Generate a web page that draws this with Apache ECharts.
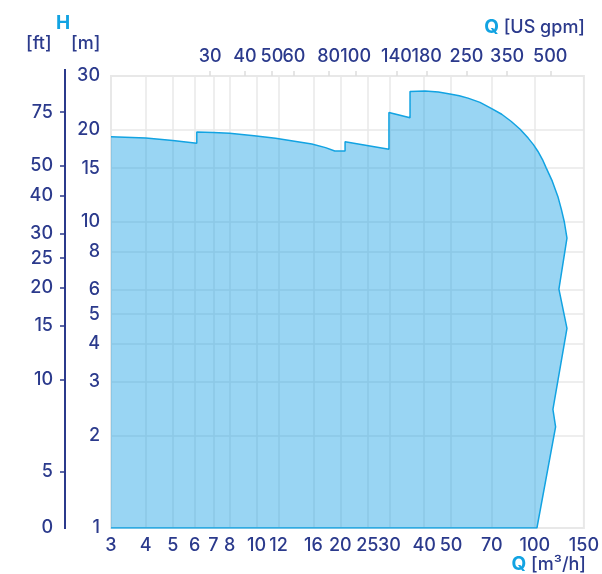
<!DOCTYPE html>
<html>
<head>
<meta charset="utf-8">
<script src="https://cdn.jsdelivr.net/npm/echarts@6/dist/echarts.min.js"></script>
<style>
html,body{margin:0;padding:0;background:#fff;}
#chart{width:602px;height:574px;}
</style>
</head>
<body>
<div id="chart"></div>
<script>
// Envelope outline: flow Q [m3/h] and head H [m]
const flowQ = [3, 4, 5, 6.1, 6.1, 7, 8, 9.8, 11.7, 15.8, 17.7, 19.1, 20.8, 20.8, 29.9, 29.9, 35.6, 35.6, 40.3, 45, 49.5, 53.5, 57.5, 63.5, 69.7, 76, 82.3, 88.5, 94.6, 98.8, 102.6, 106.5, 109.9, 115.5, 121, 124.5, 127.6, 130.4, 122, 130.4, 116.1, 118.7, 101.7, 3];
const headH = [19.0, 18.8, 18.45, 18.07, 19.7, 19.6, 19.5, 19.15, 18.77, 17.98, 17.5, 17.06, 17.06, 18.3, 17.3, 22.8, 21.9, 26.7, 26.8, 26.6, 26.2, 25.85, 25.4, 24.6, 23.5, 22.5, 21.3, 20.1, 18.8, 17.9, 17.0, 16.0, 15.0, 13.6, 12.1, 11.0, 10.0, 8.85, 6.03, 4.49, 2.44, 2.14, 1.0, 1.0];

// Axis tick labels
const qLabels = [3, 4, 5, 6, 7, 8, 10, 12, 16, 20, 25, 30, 40, 50, 70, 100, 150];
const qGrid = [4, 5, 6, 7, 8, 10, 12, 16, 20, 25, 30, 40, 50, 70, 100];
const gpmLabels = [30, 40, 50, 60, 80, 100, 140, 180, 250, 350, 500];
const hLabels = [1, 2, 3, 4, 5, 6, 8, 10, 15, 20, 30];
const hGrid = [2, 3, 4, 5, 6, 8, 10, 15, 20];
const ftLabels = [0, 5, 10, 15, 20, 25, 30, 40, 50, 75];

const GPM_PER_M3H = 4.40287;
const FT_PER_M = 1 / 0.3048;
const Q_MIN = 3, Q_MAX = 150, H_MIN = 1, H_MAX = 30;

const NAVY = '#2b3a8c';
const BLUE = '#12a3e2';
const GRID = '#e8e8e8';
const FONT = 'Inter, "Noto Sans", sans-serif';

const ftMin = H_MIN * FT_PER_M;
const ftTicks = ftLabels.filter(v => v > 0);
const ftLabelVals = ftLabels.map(v => v === 0 ? ftMin : v);

const chart = echarts.init(document.getElementById('chart'), null, {renderer: 'canvas'});

const labelStyle = {color: NAVY, fontSize: 18, fontWeight: 500, fontFamily: FONT};

chart.setOption({
  animation: false,
  grid: {left: 111, right: 16, top: 76, bottom: 46, show: true, borderColor: GRID, borderWidth: 2, backgroundColor: 'transparent'},
  xAxis: [
    {
      type: 'log', logBase: 10, min: Q_MIN, max: Q_MAX, position: 'bottom',
      axisLine: {show: false},
      axisTick: {show: false, customValues: qGrid},
      axisLabel: Object.assign({customValues: qLabels, margin: 9, formatter: v => String(Math.round(v))}, labelStyle),
      splitLine: {show: true, lineStyle: {color: GRID, width: 1.5}}
    },
    {
      type: 'log', logBase: 10, min: Q_MIN * GPM_PER_M3H, max: Q_MAX * GPM_PER_M3H, position: 'top',
      axisLine: {show: false},
      axisTick: {show: true, customValues: gpmLabels, length: 5, lineStyle: {color: '#dddddd', width: 1.5}},
      axisLabel: Object.assign({customValues: gpmLabels, margin: 10, formatter: v => String(Math.round(v))}, labelStyle),
      splitLine: {show: false}
    }
  ],
  yAxis: [
    {
      type: 'log', logBase: 10, min: H_MIN, max: H_MAX, position: 'left',
      axisLine: {show: false},
      axisTick: {show: false, customValues: hGrid},
      axisLabel: Object.assign({customValues: hLabels, margin: 11, formatter: v => String(Math.round(v))}, labelStyle),
      splitLine: {show: true, lineStyle: {color: GRID, width: 1.5}}
    },
    {
      type: 'log', logBase: 10, min: ftMin, max: H_MAX * FT_PER_M, position: 'left', offset: 46,
      axisLine: {show: false},
      axisTick: {show: true, customValues: ftTicks, length: 5, lineStyle: {color: NAVY, width: 1.5}},
      axisLabel: Object.assign({customValues: ftLabelVals, margin: 12, formatter: v => (Math.abs(v - ftMin) < 1e-6 ? '0' : String(Math.round(v)))}, labelStyle),
      splitLine: {show: false}
    }
  ],
  graphic: [
    {type: 'line', shape: {x1: 65, y1: 69, x2: 65, y2: 529}, style: {stroke: NAVY, lineWidth: 2}},
    {type: 'text', left: 56, top: 14, style: {text: 'H', fill: BLUE, font: 'bold 19px ' + FONT}},
    {type: 'text', left: 26, top: 35, style: {text: '[ft]', fill: NAVY, font: '500 18px ' + FONT}},
    {type: 'text', left: 71, top: 35, style: {text: '[m]', fill: NAVY, font: '500 18px ' + FONT}},
    {type: 'text', right: 17, top: 18, style: {text: '{q|Q} [US gpm]', fill: NAVY, font: '500 18px ' + FONT,
      rich: {q: {fill: BLUE, fontWeight: 'bold', fontSize: 19, fontFamily: FONT}}}},
    {type: 'text', right: 16, top: 555, style: {text: '{q|Q} [m³/h]', fill: NAVY, font: '500 18px ' + FONT,
      rich: {q: {fill: BLUE, fontWeight: 'bold', fontSize: 19, fontFamily: FONT}}}}
  ],
  series: [
    {
      type: 'line', xAxisIndex: 0, yAxisIndex: 0,
      data: flowQ.map((q, i) => [q, headH[i]]),
      showSymbol: false, symbol: 'none', smooth: false,
      lineStyle: {color: BLUE, width: 1.5},
      areaStyle: {color: 'rgba(0,150,225,0.4)', opacity: 1, origin: 'start'},
      z: 3
    }
  ]
});
</script>
</body>
</html>
